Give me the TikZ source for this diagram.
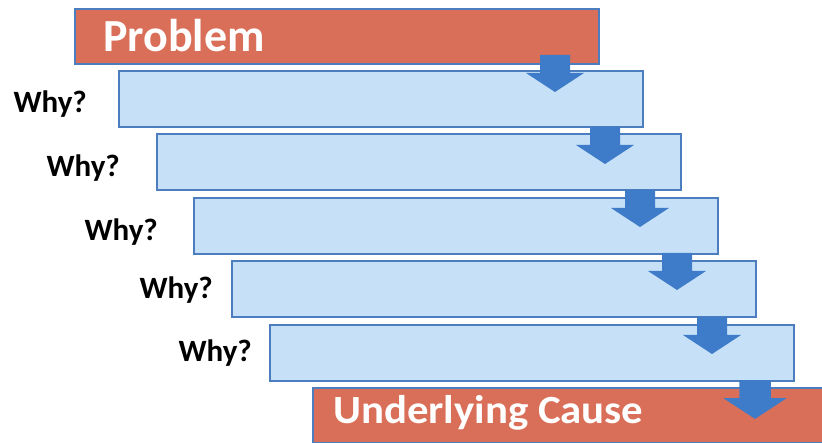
\documentclass[tikz,border=0pt]{standalone}
\usepackage{fontspec}
\setmainfont{Carlito}
\definecolor{probred}{HTML}{D96F58}
\definecolor{boxblue}{HTML}{C6E0F8}
\definecolor{edgeblue}{HTML}{4C7EBF}
\definecolor{arrowblue}{HTML}{3E7CC9}
\tikzset{
  whybox/.style={draw=edgeblue, line width=1.6pt, fill=boxblue, rectangle, inner sep=0pt, anchor=north west, minimum width=524pt, minimum height=56pt},
  redbox/.style={draw=edgeblue, line width=1.6pt, fill=probred, rectangle, inner sep=0pt, anchor=north west, minimum height=55pt},
  whylabel/.style={font=\fontsize{31}{31}\selectfont\bfseries, text=black, inner sep=0pt, anchor=base east},
  redtext/.style={text=white, inner sep=0pt, anchor=base west},
  downarrow/.pic={\fill[arrowblue, pic actions] (-15,0) -- (15,0) -- (15,18) -- (29,18) -- (0,37) -- (-29,18) -- (-15,18) -- cycle;}
}
\begin{document}
\begin{tikzpicture}[x=1pt, y=-1pt]
\useasboundingbox (0,0) rectangle (822,443);
\clip (0,0) rectangle (822,443);
% boxes
\node[redbox, minimum width=524pt] (problem) at (74,8) {};
\node[whybox] (w1) at (118,70) {};
\node[whybox] (w2) at (156,133) {};
\node[whybox] (w3) at (193,197) {};
\node[whybox] (w4) at (231,260) {};
\node[whybox] (w5) at (269,324) {};
\node[redbox, minimum width=520pt] (cause) at (312,387) {};
% texts
\node[redtext, font=\fontsize{46}{46}\selectfont\bfseries] (ptext) at (103,52) {Problem};
\node[redtext, font=\fontsize{40}{40}\selectfont\bfseries, xscale=1.07] (ctext) at (333,424) {Underlying Cause};
\node[whylabel] (l1) at (87,113) {Why?};
\node[whylabel] (l2) at (120,177) {Why?};
\node[whylabel] (l3) at (158,241) {Why?};
\node[whylabel] (l4) at (213,299) {Why?};
\node[whylabel] (l5) at (252,362) {Why?};
% arrows
\pic at (555,55) {downarrow};
\pic at (605,127) {downarrow};
\pic at (640,190) {downarrow};
\pic at (677,253) {downarrow};
\pic at (712,317) {downarrow};
\pic[draw=white, line width=1.5pt] at (755,381) {downarrow};
\end{tikzpicture}
\end{document}
